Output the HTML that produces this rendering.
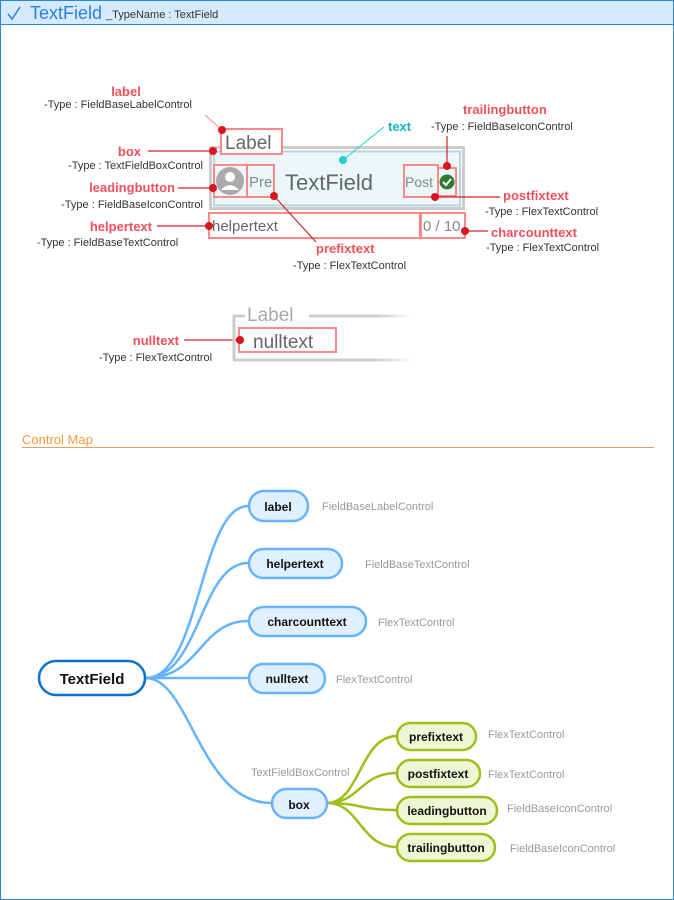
<!DOCTYPE html>
<html><head><meta charset="utf-8"><style>
html,body{margin:0;padding:0;background:#fff}
svg{display:block}
text{font-family:"Liberation Sans",Arial,sans-serif}
.r{fill:#f0505a;font-weight:bold;font-size:13px}
.t{fill:#333;font-size:11px}
.g{fill:#999;font-size:11px}
.n{font-weight:bold;font-size:12px;fill:#111}
</style></head><body>
<svg width="674" height="900" viewBox="0 0 674 900" xmlns="http://www.w3.org/2000/svg">
<defs>
<linearGradient id="fd" gradientUnits="userSpaceOnUse" x1="233" x2="412" y1="0" y2="0"><stop offset="0.8" stop-color="#ccc"/><stop offset="1" stop-color="#ccc" stop-opacity="0"/></linearGradient>
</defs>
<rect x="0.5" y="0.5" width="673" height="899" fill="#fff" stroke="#2b88d8"/>
<rect x="0.5" y="0.5" width="673" height="24" fill="#d5eafc" stroke="#2b88d8"/>
<path d="M8 14 L12 19 L20 7" stroke="#2b7fe0" stroke-width="1.5" fill="none"/>
<text x="30" y="19" font-size="18" fill="#2b7fe0">TextField</text>
<text x="106" y="18" font-size="11" fill="#333">_TypeName : TextField</text>

<!-- textfield mock -->
<rect x="210.5" y="147.5" width="253" height="61" fill="none" stroke="#ccc" stroke-width="3"/>
<rect x="214" y="151.5" width="246" height="54" fill="#ecf7fa" stroke="#b8d4de" stroke-width="2"/>
<rect x="221" y="129" width="61" height="25" fill="#fff" stroke="#f88" stroke-width="2"/>
<text x="225" y="149" font-size="19" fill="#666">Label</text>
<rect x="214" y="165" width="33" height="32" fill="none" stroke="#f88" stroke-width="2"/>
<circle cx="230" cy="181" r="14" fill="#aaa"/>
<circle cx="230" cy="177" r="5" fill="#fff"/>
<path d="M221 190 Q230 180 239 190 Z" fill="#fff"/>
<rect x="247" y="165" width="27" height="32" fill="none" stroke="#f88" stroke-width="2"/>
<text x="249" y="187" font-size="15" fill="#888">Pre</text>
<text x="285" y="190" font-size="22" fill="#666">TextField</text>
<rect x="404" y="165" width="34" height="32" fill="none" stroke="#f88" stroke-width="2"/>
<text x="405" y="187" font-size="14" fill="#888">Post</text>
<rect x="438" y="168" width="18" height="28" fill="none" stroke="#f88" stroke-width="2"/>
<circle cx="447" cy="182" r="7.5" fill="#2e7d32"/>
<path d="M443 182 L446 185 L451 179" stroke="#fff" stroke-width="2" fill="none"/>
<rect x="209" y="213" width="211" height="25" fill="#fff" stroke="#f88" stroke-width="2"/>
<text x="212" y="231" font-size="15" fill="#666">helpertext</text>
<rect x="421" y="213" width="44" height="25" fill="#fff" stroke="#f88" stroke-width="2"/>
<text x="423" y="231" font-size="15" fill="#888">0 / 10</text>

<!-- annotations -->
<g stroke="#d0202a" stroke-width="1.2">
<line x1="222" y1="130" x2="205" y2="115" stroke="#f5a0a5"/>
<line x1="148" y1="151" x2="213" y2="151"/>
<line x1="178" y1="188" x2="213" y2="188"/>
<line x1="157" y1="226" x2="209" y2="226"/>
<line x1="274" y1="196" x2="316" y2="242"/>
<line x1="447" y1="136" x2="447" y2="166"/>
<line x1="435" y1="197" x2="500" y2="197"/>
<line x1="465" y1="231" x2="488" y2="231"/>
<line x1="184" y1="340" x2="240" y2="340"/>
</g>
<line x1="343" y1="160" x2="384" y2="127" stroke="#20d0d0"/>
<g fill="#d7161f">
<circle cx="222" cy="130" r="4"/><circle cx="213" cy="151" r="4"/><circle cx="213" cy="188" r="4"/>
<circle cx="209" cy="226" r="4"/><circle cx="274" cy="196" r="4"/><circle cx="447" cy="166" r="4"/>
<circle cx="435" cy="197" r="4"/><circle cx="465" cy="231" r="4"/><circle cx="240" cy="340" r="4"/>
</g>
<circle cx="343" cy="160" r="4" fill="#20d0d0"/>

<text class="r" x="126" y="96" text-anchor="middle">label</text>
<text class="t" x="44" y="108">-Type : FieldBaseLabelControl</text>
<text class="r" x="141" y="156" text-anchor="end">box</text>
<text class="t" x="203" y="169" text-anchor="end">-Type : TextFieldBoxControl</text>
<text class="r" x="175" y="192" text-anchor="end">leadingbutton</text>
<text class="t" x="203" y="208" text-anchor="end">-Type : FieldBaseIconControl</text>
<text class="r" x="152" y="231" text-anchor="end">helpertext</text>
<text class="t" x="37" y="246">-Type : FieldBaseTextControl</text>
<text class="r" x="316" y="253">prefixtext</text>
<text class="t" x="293" y="269">-Type : FlexTextControl</text>
<text x="388" y="131" font-size="13" font-weight="bold" fill="#10b8b8">text</text>
<text class="r" x="463" y="114">trailingbutton</text>
<text class="t" x="431" y="130">-Type : FieldBaseIconControl</text>
<text class="r" x="503" y="200">postfixtext</text>
<text class="t" x="485" y="215">-Type : FlexTextControl</text>
<text class="r" x="491" y="237">charcounttext</text>
<text class="t" x="486" y="251">-Type : FlexTextControl</text>

<!-- nulltext -->
<path d="M245 316 H234 V360" fill="none" stroke="#ccc" stroke-width="3"/>
<line x1="233" y1="360" x2="412" y2="360" stroke="url(#fd)" stroke-width="3"/>
<line x1="309" y1="316" x2="412" y2="316" stroke="url(#fd)" stroke-width="3"/>
<text x="247" y="321" font-size="19" fill="#aaa">Label</text>
<rect x="239" y="328" width="97" height="24" fill="#fff" stroke="#f88" stroke-width="2"/>
<text x="253" y="348" font-size="19" fill="#666">nulltext</text>
<circle cx="240" cy="340" r="4" fill="#d7161f"/>
<text class="r" x="179" y="345" text-anchor="end">nulltext</text>
<text class="t" x="99" y="361">-Type : FlexTextControl</text>

<!-- control map -->
<text x="22" y="444" font-size="13" fill="#f39c3c">Control Map</text>
<rect x="22" y="447" width="632" height="1" fill="#e8a060"/>

<g fill="none" stroke="#66b3ff" stroke-width="2.5">
<path d="M146 678 C200 678 200 506 248 506"/>
<path d="M146 678 C200 678 200 563 248 563"/>
<path d="M146 678 C200 678 200 621 248 621"/>
<path d="M146 678 L248 678"/>
<path d="M146 678 C190 678 200 803 271 803"/>
</g>
<g fill="none" stroke="#9dbf1c" stroke-width="2.5">
<path d="M327 803 C360 803 360 736 397 736"/>
<path d="M327 803 C360 803 360 773 397 773"/>
<path d="M327 803 C360 803 360 810 397 810"/>
<path d="M327 803 C360 803 360 847 397 847"/>
</g>
<rect x="39" y="661" width="106" height="34" rx="17" fill="#fff" stroke="#0b6fd0" stroke-width="2.5"/>
<text x="92" y="684" text-anchor="middle" font-size="15" font-weight="bold" fill="#111">TextField</text>
<g fill="#e0f0ff" stroke="#66b3ff" stroke-width="2.5">
<rect x="249" y="491" width="59" height="30" rx="15"/>
<rect x="249" y="549" width="93" height="29" rx="14.5"/>
<rect x="249" y="607" width="117" height="29" rx="14.5"/>
<rect x="249" y="664" width="76" height="29" rx="14.5"/>
<rect x="272" y="789" width="55" height="29" rx="14.5"/>
</g>
<text class="n" x="278" y="511" text-anchor="middle">label</text>
<text class="n" x="295" y="568" text-anchor="middle">helpertext</text>
<text class="n" x="307" y="626" text-anchor="middle">charcounttext</text>
<text class="n" x="287" y="683" text-anchor="middle">nulltext</text>
<text class="n" x="299" y="809" text-anchor="middle" font-size="13">box</text>
<text class="g" x="322" y="510">FieldBaseLabelControl</text>
<text class="g" x="365" y="568">FieldBaseTextControl</text>
<text class="g" x="378" y="626">FlexTextControl</text>
<text class="g" x="336" y="683">FlexTextControl</text>
<text class="g" x="251" y="776">TextFieldBoxControl</text>
<g fill="#eef7d4" stroke="#9dbf1c" stroke-width="2.5">
<rect x="397" y="723" width="79" height="27" rx="13.5"/>
<rect x="397" y="760" width="83" height="27" rx="13.5"/>
<rect x="397" y="797" width="100" height="27" rx="13.5"/>
<rect x="397" y="834" width="98" height="27" rx="13.5"/>
</g>
<text class="n" x="436" y="741" text-anchor="middle" font-size="11">prefixtext</text>
<text class="n" x="438" y="778" text-anchor="middle" font-size="11">postfixtext</text>
<text class="n" x="447" y="815" text-anchor="middle" font-size="11">leadingbutton</text>
<text class="n" x="446" y="852" text-anchor="middle" font-size="11">trailingbutton</text>
<text class="g" x="488" y="738">FlexTextControl</text>
<text class="g" x="488" y="778">FlexTextControl</text>
<text class="g" x="507" y="812">FieldBaseIconControl</text>
<text class="g" x="510" y="852">FieldBaseIconControl</text>
</svg>
</body></html>
